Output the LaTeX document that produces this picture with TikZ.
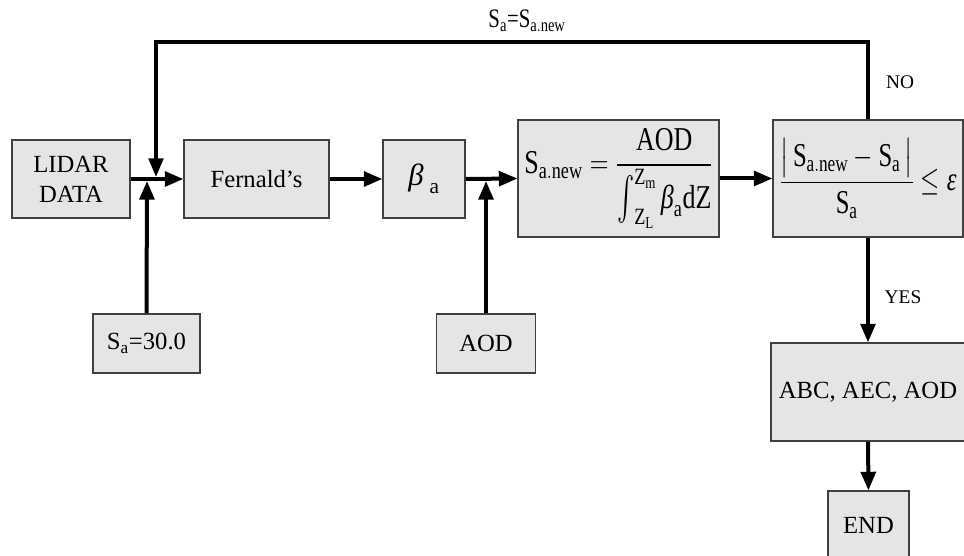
\RequirePackage{fix-cm}
\documentclass[tikz,border=0pt]{standalone}
\usepackage{amsmath}
\usepackage{graphicx}
\usepackage{fontspec}
\setmainfont{Liberation Serif}
\usetikzlibrary{arrows.meta}

% italic Greek letters taken from the text font
\newcommand{\gbeta}{\mbox{\itshape β}}
\newcommand{\geps}{\mbox{\itshape ε}}
\newcommand{\Sx}[1]{\mathrm{S}_{\mathrm{#1}}}
% narrow, tall setting for the formulas
\newcommand{\narrow}[2]{\scalebox{#1}[1]{#2}}
% a slightly stretched text-style integral sign
\newcommand{\tallint}{\mathop{\vcenter{\hbox{\scalebox{1}[1.3]{$\textstyle\int$}}}}\nolimits}

\tikzset{
  box/.style={draw=black!75, line width=0.8pt, fill=black!10, inner sep=0pt,
              align=center, font=\fontsize{18.5}{22.5}\selectfont},
  sz/.style 2 args={minimum width=#1*0.75pt, minimum height=#2*0.75pt},
  flow/.style={line width=3pt, -{Triangle[length=14pt,width=11pt]}},
  feed/.style={line width=2.4pt, -{Triangle[length=14pt,width=11pt]}},
  lbl/.style={inner sep=0pt, font=\fontsize{14.5}{17}\selectfont},
}

\begin{document}
\begin{tikzpicture}[x=0.75pt,y=-0.75pt]
\useasboundingbox (0,0) rectangle (964,556);

% main chain
\node[box, sz={118}{78}] (lidar) at (71,179) {LIDAR\\DATA};
\node[box, sz={145}{78}] (fern) at (256.5,179) {Fernald’s};
\node[box, sz={82}{78}] (beta) at (424,179) {\fontsize{23}{27}\selectfont$\gbeta_{\;\mathrm{a}}$};
\node[box, sz={201}{117}] (snew) at (618.5,178.5)
  {\fontsize{25}{29}\selectfont\narrow{0.78}{$\Sx{a.new}=\dfrac{\mathrm{AOD}}{\tallint_{\mathrm{Z_L}}^{\mathrm{Z_m}}\gbeta_{\mathrm{a}}\mathrm{dZ}}$}};
\node[box, sz={190}{117}] (conv) at (868,178.5)
  {\fontsize{25}{29}\selectfont\narrow{0.74}{$\dfrac{\big|\,\Sx{a.new}-\Sx{a}\,\big|}{\Sx{a}}\le\geps$}};
\node[box, sz={194}{98}] (abc) at (868,392) {ABC, AEC, AOD};
\node[box, sz={81}{68}] (endb) at (868.5,525) {END};

% inputs from below
\node[box, sz={107}{59}] (sa30) at (146.5,343.5) {S$_{\mathrm{a}}$=30.0};
\node[box, sz={99}{59}] (aod) at (486,343.5) {AOD};

% junction points on the main line
\coordinate (j1) at (147,181);
\coordinate (j2) at (486,181);
\coordinate (fbcorner) at (156,42);
\coordinate (fbend) at (156,177);

\draw[flow] (lidar.east) -- (fern.west);
\draw[flow] (fern.east) -- (beta.west);
\draw[flow] (beta.east) -- (snew.west);
\draw[flow] (snew.east) -- (conv.west);
\draw[flow] (conv.south) -- (abc.north);
\draw[flow] (abc.south) -- (endb.north);
\draw[flow] (sa30.north) -- (j1);
\draw[flow] (aod.north) -- (j2);
\draw[feed] (conv.north) |- (fbcorner) -- (fbend);

% branch labels
\node[inner sep=0pt, font=\fontsize{20}{24}\selectfont] (upd) at (527,21)
  {\narrow{0.78}{S$_{\mathrm{a}}$=S$_{\mathrm{a.new}}$}};
\node[lbl] (no) at (900,82) {NO};
\node[lbl] (yes) at (903,297) {YES};
\end{tikzpicture}
\end{document}
